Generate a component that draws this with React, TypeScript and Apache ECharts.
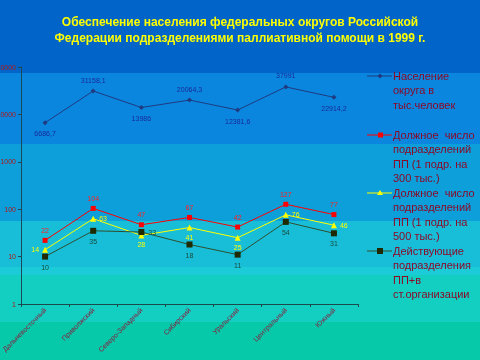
import React, { useEffect, useRef } from 'react';
import * as echarts from 'echarts';

const categories = ['Дальневосточный', 'Приволжский', 'Северо-Западный', 'Сибирский', 'Уральский', 'Центральный', 'Южный'];
const population = [6686.7, 31158.1, 13986, 20064.3, 12381.6, 37991, 22914.2];
const due300 = [22, 104, 47, 67, 42, 127, 77];
const due500 = [14, 63, 28, 41, 25, 76, 46];
const actual = [10, 35, 33, 18, 11, 54, 31];
const seriesNames = [
  'Население округа в тыс.человек',
  'Должное число подразделений ПП (1 подр. на 300 тыс.)',
  'Должное число подразделений ПП (1 подр. на 500 тыс.)',
  'Действующие подразделения ПП+в ст.организации',
];
const legendLines = [
  ['Население', 'округа в', 'тыс.человек'],
  ['Должное  число', 'подразделений', 'ПП (1 подр. на', '300 тыс.)'],
  ['Должное  число', 'подразделений', 'ПП (1 подр. на', '500 тыс.)'],
  ['Действующие', 'подразделения', 'ПП+в', 'ст.организации'],
];
const titleText = 'Обеспечение населения федеральных округов Российской\nФедерации подразделениями паллиативной помощи в 1999 г.';

const popPos = ['bottom', 'top', 'bottom', 'top', 'bottom', 'top', 'bottom'];
const due500Pos = ['left', 'right', 'bottom', 'bottom', 'bottom', 'right', 'right'];
const actualPos = ['bottom', 'bottom', 'right', 'bottom', 'bottom', 'bottom', 'bottom'];

const FONT = '"Liberation Sans", Arial, sans-serif';

const fmt = (p: any) => String(p.value).replace('.', ',');

export default function App() {
  const ref = useRef<HTMLDivElement>(null);
  useEffect(() => {
    if (!ref.current) return;
    const chart = echarts.init(ref.current, null, { renderer: 'svg' });

    const bands: [number, number, string][] = [
      [0, 73, '#0064c8'],
      [73, 144, '#0a86de'],
      [144, 221, '#0c9fda'],
      [221, 267, '#18bed8'],
      [267, 275, '#1ccbd8'],
      [275, 322, '#12cfc2'],
      [322, 360, '#06c9aa'],
    ];
    const bg = bands.map(([y0, y1, c]) => ({
      type: 'rect', z: -100, silent: true,
      shape: { x: 0, y: y0, width: 480, height: y1 - y0 },
      style: { fill: c },
    }));

    const legendYs = [76, 135, 193, 251];
    const legendColors = ['#1f3a80', '#ff0000', '#ffff00', '#2f4f2f'];
    const legendGraphics: any[] = [];
    legendLines.forEach((lines, i) => {
      const y = legendYs[i];
      legendGraphics.push({
        type: 'line', shape: { x1: 367, y1: y, x2: 392, y2: y },
        style: { stroke: legendColors[i], lineWidth: 1 },
      });
      if (i === 0) {
        legendGraphics.push({ type: 'polygon', shape: { points: [[380, y - 2.5], [382.5, y], [380, y + 2.5], [377.5, y]] }, style: { fill: '#1f3a80' } });
      } else if (i === 1) {
        legendGraphics.push({ type: 'rect', shape: { x: 378, y: y - 2.5, width: 5, height: 5 }, style: { fill: '#ff0000' } });
      } else if (i === 2) {
        legendGraphics.push({ type: 'polygon', shape: { points: [[380, y - 3], [383, y + 2], [377, y + 2]] }, style: { fill: '#ffff00' } });
      } else {
        legendGraphics.push({ type: 'rect', shape: { x: 377, y: y - 3, width: 6, height: 6 }, style: { fill: '#1f2a00' } });
      }
      lines.forEach((t, k) => {
        legendGraphics.push({
          type: 'text', x: 393, y: y + k * 14.3,
          style: { text: t, fill: '#8b0a28', font: `11px ${FONT}`, textVerticalAlign: 'middle', textAlign: 'left' },
        });
      });
    });

    const labelBase = { show: true, fontSize: 7, fontFamily: FONT, formatter: fmt, distance: 3 };

    chart.setOption({
      animation: false,
      title: {
        text: titleText, left: 'center', top: 9,
        textStyle: {
          color: '#ffff00', fontSize: 12, fontWeight: 'bold', lineHeight: 16, fontFamily: FONT,
          textShadowColor: 'rgba(0,0,0,0.35)', textShadowOffsetX: 1, textShadowOffsetY: 1, textShadowBlur: 0,
        },
      },
      graphic: [...bg, ...legendGraphics],
      grid: { left: 21, right: 122, top: 67, bottom: 56, containLabel: false, outerBoundsMode: 'none' },
      xAxis: {
        type: 'category', data: categories, boundaryGap: true,
        axisLine: { lineStyle: { color: '#1a4a4a', width: 1 } },
        axisTick: { show: true, length: 3, lineStyle: { color: '#1a4a4a' } },
        axisLabel: { rotate: 45, fontSize: 7, color: '#8b1a3a', margin: 5, interval: 0, fontFamily: FONT },
        splitLine: { show: false },
      },
      yAxis: {
        type: 'log', logBase: 10, min: 1, max: 100000,
        axisLine: { show: true, lineStyle: { color: '#1a4a5a', width: 1 } },
        axisTick: { show: true, length: 3, lineStyle: { color: '#1a4a5a' } },
        axisLabel: { fontSize: 7, color: '#b01818', margin: 5, fontFamily: FONT, formatter: (v: number) => String(Math.round(v)) },
        splitLine: { show: false },
      },
      series: [
        {
          name: seriesNames[0], type: 'line', symbol: 'diamond', symbolSize: 5,
          itemStyle: { color: '#1f3a80' }, lineStyle: { color: '#1f3a80', width: 1 },
          label: { ...labelBase, color: '#1a2a9a', distance: 5 },
          data: population.map((v, i) => ({ value: v, label: { position: popPos[i] } })),
        },
        {
          name: seriesNames[1], type: 'line', symbol: 'rect', symbolSize: 5,
          itemStyle: { color: '#ff0000' }, lineStyle: { color: '#ff0000', width: 1 },
          label: { ...labelBase, color: '#ff2020', position: 'top', distance: 4 },
          data: due300,
        },
        {
          name: seriesNames[2], type: 'line', symbol: 'triangle', symbolSize: 6,
          itemStyle: { color: '#ffff00' }, lineStyle: { color: '#ffff00', width: 1 },
          label: { ...labelBase, color: '#ffff00' },
          data: due500.map((v, i) => ({ value: v, label: { position: due500Pos[i] } })),
        },
        {
          name: seriesNames[3], type: 'line', symbol: 'rect', symbolSize: 6,
          itemStyle: { color: '#1f2a00' }, lineStyle: { color: '#2f4f2f', width: 1 },
          label: { ...labelBase, color: '#1a4a3a', distance: 4 },
          data: actual.map((v, i) => ({ value: v, label: { position: actualPos[i] } })),
        },
      ],
    });
    return () => chart.dispose();
  }, []);
  return <div ref={ref} style={{ position: 'fixed', left: 0, top: 0, width: 480, height: 360 }} />;
}
